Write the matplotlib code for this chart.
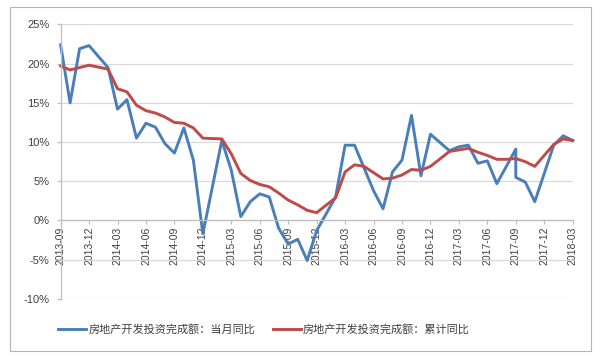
import matplotlib
matplotlib.use("Agg")
import matplotlib.pyplot as plt
from matplotlib.patches import Rectangle
import pandas as pd

plt.rcParams['font.family'] = ['Liberation Sans', 'Noto Sans CJK SC']

# category axis: every month, labelled every third one
months = [p.strftime('%Y-%m') for p in pd.period_range('2013-09', '2018-03', freq='M')]

blue_name = '房地产开发投资完成额：当月同比'
blue_months = ['2013-09', '2013-10', '2013-11', '2013-12',
               '2014-02', '2014-03', '2014-04', '2014-05', '2014-06', '2014-07', '2014-08',
               '2014-09', '2014-10', '2014-11', '2014-12',
               '2015-02', '2015-03', '2015-04', '2015-05', '2015-06', '2015-07', '2015-08',
               '2015-09', '2015-10', '2015-11', '2015-12',
               '2016-02', '2016-03', '2016-04', '2016-06', '2016-07', '2016-08', '2016-09',
               '2016-10', '2016-11', '2016-12',
               '2017-02', '2017-03', '2017-04', '2017-05', '2017-06', '2017-07', '2017-09',
               '2017-09', '2017-10', '2017-11',
               '2018-01', '2018-02', '2018-03']
blue_vals = [22.4, 15.0, 21.9, 22.3,
             19.5, 14.2, 15.4, 10.5, 12.4, 11.9, 9.8, 8.6, 11.8, 7.7, -1.7,
             10.2, 6.4, 0.5, 2.4, 3.4, 3.0, -1.0, -3.0, -2.4, -5.1, -1.3,
             3.0, 9.6, 9.6, 3.8, 1.5, 6.2, 7.7, 13.4, 5.7, 11.0,
             8.9, 9.4, 9.6, 7.3, 7.6, 4.7, 9.1, 5.5, 4.9, 2.4,
             9.6, 10.8, 10.2]

red_name = '房地产开发投资完成额：累计同比'
red_months = ['2013-09', '2013-10', '2013-11', '2013-12',
              '2014-02', '2014-03', '2014-04', '2014-05', '2014-06', '2014-07', '2014-08',
              '2014-09', '2014-10', '2014-11', '2014-12',
              '2015-02', '2015-03', '2015-04', '2015-05', '2015-06', '2015-07', '2015-08',
              '2015-09', '2015-10', '2015-11', '2015-12',
              '2016-02', '2016-03', '2016-04', '2016-05', '2016-06', '2016-07', '2016-08',
              '2016-09', '2016-10', '2016-11', '2016-12',
              '2017-02', '2017-03', '2017-04', '2017-05', '2017-06', '2017-07', '2017-08',
              '2017-09', '2017-10', '2017-11',
              '2018-01', '2018-02', '2018-03']
red_vals = [19.7, 19.2, 19.5, 19.8,
            19.3, 16.8, 16.4, 14.7, 14.0, 13.7, 13.2, 12.5, 12.4, 11.8, 10.5,
            10.4, 8.5, 6.0, 5.1, 4.6, 4.3, 3.5, 2.6, 2.0, 1.3, 1.0,
            2.9, 6.2, 7.1, 6.9, 6.1, 5.3, 5.4, 5.8, 6.5, 6.4, 6.9,
            8.8, 9.0, 9.2, 8.7, 8.3, 7.8, 7.8, 7.9, 7.5, 6.9,
            9.7, 10.4, 10.2]

pos = {m: i for i, m in enumerate(months)}

fig = plt.figure(figsize=(6, 3.58), dpi=100)
fig.patches.append(Rectangle((0.0167, 0.0196), 0.968, 0.961, transform=fig.transFigure,
                             fill=False, edgecolor='#B4B4B4', linewidth=0.8))
ax = fig.add_axes([0.101, 0.165, 0.8535, 0.7668])

ax.plot([pos[m] for m in blue_months], blue_vals, color='#4A7EBB', lw=2.1, label=blue_name,
        solid_joinstyle='round', clip_on=False)
ax.plot([pos[m] for m in red_months], red_vals, color='#BE4B48', lw=2.1, label=red_name,
        solid_joinstyle='round', clip_on=False)

# spine move resets the ticks, so do it before styling them
for s in ['top', 'right']:
    ax.spines[s].set_visible(False)
ax.spines['bottom'].set_position(('data', 0))
for s in ['left', 'bottom']:
    ax.spines[s].set_color('#BFBFBF')
    ax.spines[s].set_linewidth(0.9)

ax.set_xlim(0, len(months) - 1)
ax.set_ylim(-10, 25)
ax.set_yticks(range(-10, 30, 5))
ax.set_yticklabels([f'{v}%' for v in range(-10, 30, 5)])
ax.set_xticks(range(0, len(months), 3))
ax.set_xticklabels(months[::3])
ax.yaxis.grid(True, color='#D9D9D9', lw=0.9)
ax.set_axisbelow(True)

ax.tick_params(axis='x', length=3, width=0.9, color='#BFBFBF', pad=1.5,
               labelsize=7.5, labelcolor='#404040', labelrotation=90)
ax.tick_params(axis='y', length=3, width=0.9, color='#BFBFBF', pad=5,
               labelsize=8, labelcolor='#404040')

fig.legend(loc='center', bbox_to_anchor=(0.44, 0.081), ncol=2, frameon=False,
           prop={'family': ['Noto Sans CJK SC'], 'size': 8}, handlelength=2.5,
           handletextpad=0.2, columnspacing=1.6, labelcolor='#404040')

fig.savefig('out.png', dpi=100)
